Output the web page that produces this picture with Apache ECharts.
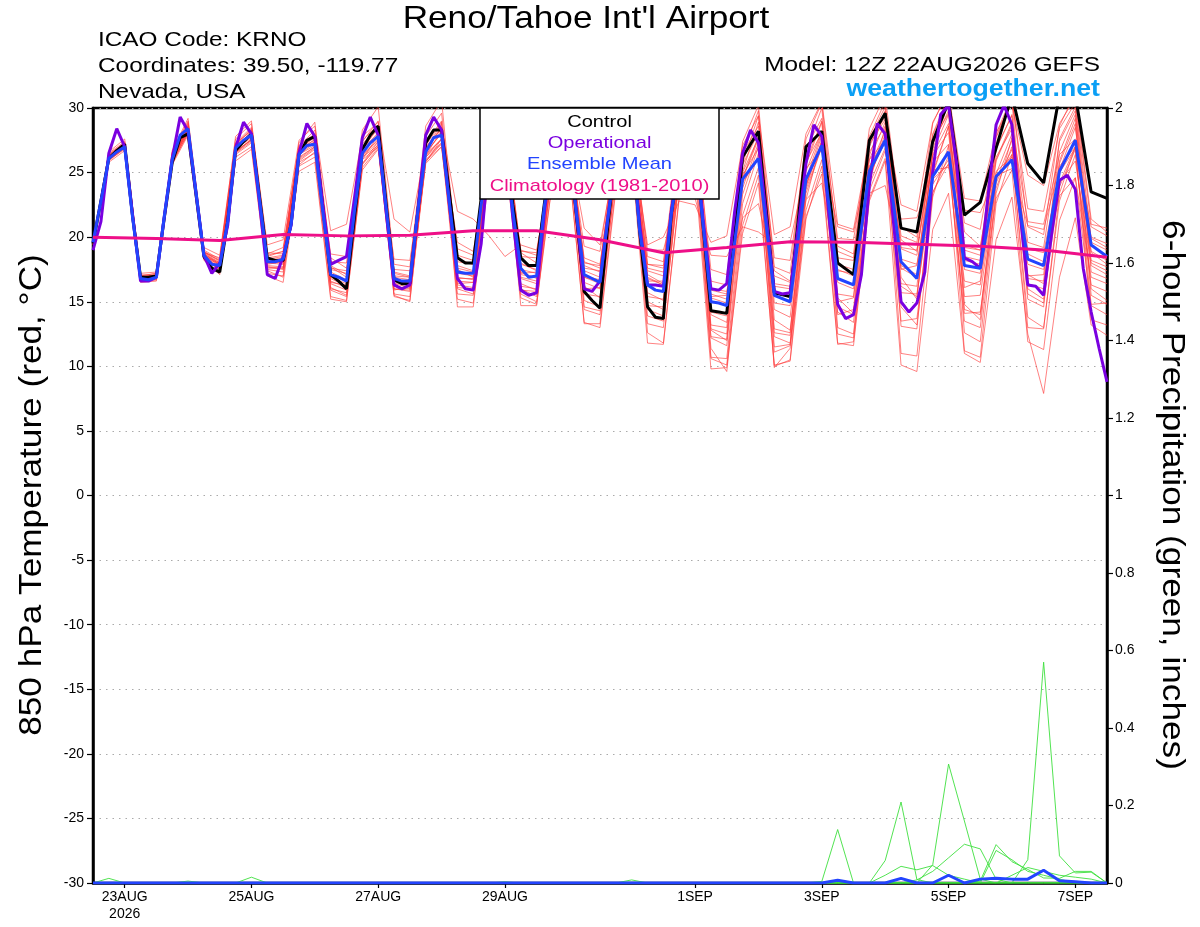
<!DOCTYPE html>
<html>
<head>
<meta charset="utf-8">
<script src="https://cdn.jsdelivr.net/npm/echarts@6/dist/echarts.min.js"></script>
<style>
  html, body { margin: 0; padding: 0; background: #fff; }
  #chart { width: 1200px; height: 927px; }
</style>
</head>
<body>
<div id="chart"></div>
<script>
// forecast hours after 12Z 22AUG2026
const steps = (a, b, s) => { const r = []; for (let h = a; h <= b; h += s) r.push(h); return r }
const hoursOper = steps(0, 384, 3)
const hoursGefs = steps(0, 240, 3).concat(steps(246, 384, 6))
const hours6 = steps(0, 384, 6)
const hoursDaily = steps(0, 384, 24)

const labelHours = [12, 60, 108, 156, 228, 276, 324, 372]
const labelText = ['23AUG\n2026', '25AUG', '27AUG', '29AUG', '1SEP', '3SEP', '5SEP', '7SEP']

// 850 hPa temperature, deg C
const operational = [19.0,
  21.2, 26.5, 28.4, 27.0, 21.7, 16.6, 16.6, 16.9,
  21.6, 26.1, 29.3, 28.2, 23.4, 18.6, 17.2, 18.0,
  20.9, 26.9, 28.9, 28.0, 22.8, 17.1, 16.8, 18.5,
  20.9, 26.5, 28.8, 27.8, 22.5, 17.9, 18.2, 18.5,
  23.0, 27.7, 29.3, 27.9, 22.0, 16.3, 16.0, 16.3,
  22.0, 27.9, 29.3, 28.3, 22.5, 16.8, 16.0, 15.9,
  19.5, 26.5, 28.8, 28.0, 21.5, 15.9, 15.5, 15.7,
  22.0, 27.0, 28.8, 28.0, 22.0, 16.0, 15.8, 16.6,
  21.5, 26.5, 28.5, 27.8, 21.0, 16.3, 16.3, 16.2,
  22.0, 26.0, 28.0, 27.5, 21.5, 16.0, 15.9, 16.4,
  22.0, 26.5, 28.3, 27.3, 21.5, 15.8, 15.6, 15.7,
  20.7, 25.7, 28.7, 27.8, 21.0, 14.8, 13.7, 14.0,
  17.1, 24.0, 28.8, 28.0, 21.5, 15.0, 14.2, 14.9,
  17.3, 25.1, 29.5, 30.2, 25.8, 18.4, 18.1, 17.6,
  23.3, 28.7, 30.2, 28.7, 22.0, 16.3, 16.2, 15.5,
  20.2, 24.4, 24.8, 23.7, 17.6, 14.2, 11.4, 8.8]

const control = [19.5,
  22.8, 26.1, 26.7, 27.2, 21.6, 16.9, 16.9, 17.0,
  21.5, 25.8, 27.7, 28.0, 23.3, 18.5, 17.6, 17.3,
  21.2, 26.7, 27.4, 28.0, 23.2, 18.4, 18.2, 18.2,
  21.0, 26.4, 27.5, 27.8, 22.4, 17.1, 16.6, 16.0,
  21.5, 26.8, 27.9, 28.6, 22.6, 16.7, 16.4, 16.4,
  22.0, 27.3, 28.3, 28.3, 23.3, 18.4, 18.0, 18.0,
  23.0, 27.0, 28.0, 28.2, 22.5, 18.4, 17.8, 17.8,
  22.7, 26.8, 28.0, 28.2, 21.8, 15.8, 15.1, 14.5,
  21.0, 26.5, 28.0, 28.2, 20.5, 14.6, 13.8, 13.7,
  21.8, 26.0, 27.5, 28.0, 21.0, 14.3, 14.2, 14.1,
  26.2, 28.2, 15.7, 15.4, 27.0, 28.2, 18.0, 17.1, 27.5, 29.6, 20.7, 20.4,
  27.4, 30.5, 21.7, 22.7, 26.9, 31.0, 25.7, 24.2, 31.0, 31.0, 23.5, 23.0]

const ensMean = [19.6,
  22.8, 26.1, 26.6, 27.0, 21.5, 16.8, 16.7, 16.9,
  21.6, 26.0, 27.9, 28.4, 23.5, 18.6, 17.9, 17.8,
  21.2, 26.9, 27.5, 27.9, 23.0, 18.1, 18.1, 18.3,
  21.0, 26.4, 27.1, 27.2, 22.0, 17.1, 16.9, 16.6,
  22.0, 26.5, 27.3, 27.8, 22.3, 16.8, 16.6, 16.6,
  22.0, 26.6, 27.7, 27.9, 22.6, 17.3, 17.2, 17.2,
  22.5, 26.5, 27.5, 27.8, 22.0, 17.6, 16.9, 17.0,
  22.5, 26.3, 27.4, 27.6, 22.0, 17.1, 16.8, 16.5,
  21.5, 26.0, 27.2, 27.5, 20.5, 16.3, 15.9, 15.8,
  21.8, 25.8, 27.0, 27.3, 21.0, 15.0, 14.9, 14.7,
  24.5, 26.1, 15.5, 15.0, 24.5, 27.1, 16.8, 16.3, 25.1, 27.5, 18.1, 16.8,
  24.7, 26.6, 17.8, 17.6, 24.7, 26.0, 18.3, 17.8, 25.1, 27.5, 19.4, 18.5]

const climatology = [20.0, 19.9, 19.75, 20.2, 20.1, 20.15, 20.5, 20.5, 19.8, 18.8,
  19.2, 19.65, 19.6, 19.45, 19.3, 19.0, 18.45]

// ensemble members, 6-hourly (4 values per day)
const tempMembers = [
  [19.5, 26.4, 27.3, 16.6, 16.7, 26.3, 28.6, 18.9, 18.1, 27.3, 28.5, 18.6, 18.9, 27.0, 28.3, 17.8,
   17.1, 27.4, 29.0, 17.5, 17.4, 27.8, 29.6, 18.6, 18.2, 27.5, 29.0, 18.8, 18.0, 27.0, 28.5, 16.2,
   15.3, 25.4, 27.0, 14.4, 13.9, 24.6, 27.8, 13.2, 13.0, 25.1, 28.9, 17.4, 16.6, 25.8, 28.1, 15.3,
   14.1, 23.6, 26.7, 19.8, 18.9, 27.4, 29.6, 20.4, 19.3, 26.2, 28.4, 17.1, 16.4, 24.2, 27.0, 20.8, 20.1],
  [19.8, 26.0, 26.8, 17.0, 17.2, 25.7, 28.1, 18.3, 17.5, 26.4, 27.3, 17.6, 17.6, 25.8, 26.5, 16.4,
   15.9, 25.6, 27.2, 15.6, 15.4, 25.9, 27.3, 16.1, 16.0, 25.8, 27.1, 16.4, 15.9, 25.2, 26.6, 15.1,
   14.6, 24.8, 26.9, 12.6, 11.8, 23.2, 25.8, 10.6, 10.1, 21.7, 25.4, 12.3, 11.8, 22.1, 26.0, 14.2,
   13.4, 24.1, 26.9, 16.2, 15.4, 25.0, 28.6, 19.0, 18.6, 26.8, 29.5, 16.0, 15.2, 23.9, 26.8, 18.8, 17.9],
  [19.4, 26.2, 27.1, 16.9, 17.0, 26.1, 28.3, 18.7, 17.9, 26.6, 27.6, 17.9, 18.1, 26.0, 26.9, 16.8,
   16.2, 26.2, 27.4, 16.0, 15.8, 26.0, 27.2, 15.2, 14.9, 24.7, 26.4, 15.3, 14.8, 24.3, 26.1, 13.4,
   13.0, 23.6, 26.2, 11.8, 11.7, 23.0, 25.1, 9.8, 9.9, 20.3, 24.2, 10.1, 10.4, 21.4, 25.5, 11.8,
   11.6, 22.8, 25.9, 10.1, 9.6, 20.6, 23.4, 11.0, 10.3, 19.8, 23.1, 12.5, 7.9, 16.9, 21.5, 13.2, 12.4],
  [19.7, 26.5, 27.4, 17.2, 17.3, 26.6, 29.0, 19.2, 18.6, 27.6, 28.8, 19.4, 19.8, 27.5, 28.6, 20.5,
   21.0, 27.8, 28.9, 21.4, 20.4, 26.9, 28.5, 22.0, 21.4, 20.1, 18.5, 19.4, 19.0, 25.8, 27.4, 20.7,
   19.4, 26.3, 27.7, 19.4, 20.0, 22.8, 22.5, 19.6, 20.1, 27.1, 29.4, 20.2, 20.8, 28.0, 30.5, 21.0,
   20.6, 27.2, 29.1, 22.5, 22.0, 28.9, 31.2, 23.0, 22.8, 28.1, 30.3, 24.8, 24.0, 28.8, 30.8, 21.0, 20.7],
  [19.6, 26.0, 27.0, 16.5, 16.6, 25.9, 28.5, 18.4, 17.4, 26.2, 27.0, 17.2, 17.0, 25.5, 26.2, 15.4,
   15.1, 25.2, 26.8, 15.9, 16.2, 26.8, 28.8, 14.6, 14.6, 25.2, 27.5, 14.7, 14.7, 25.6, 27.8, 16.0,
   16.1, 26.5, 28.2, 15.7, 15.1, 26.0, 28.4, 12.8, 12.0, 23.8, 27.3, 10.0, 10.5, 22.9, 27.6, 14.0,
   14.4, 26.3, 29.8, 16.9, 15.2, 26.8, 30.4, 14.8, 13.6, 24.9, 28.0, 15.6, 14.9, 25.9, 29.2, 16.0, 15.1],
  [19.5, 26.2, 27.2, 16.9, 17.1, 26.2, 28.8, 18.8, 18.0, 27.0, 28.1, 18.3, 18.5, 26.8, 27.8, 17.7,
   16.9, 26.9, 28.4, 16.7, 16.4, 27.1, 28.9, 17.2, 17.0, 26.9, 28.4, 18.0, 17.4, 26.9, 28.3, 18.1,
   17.6, 27.1, 28.8, 17.4, 17.0, 26.8, 28.6, 15.9, 15.6, 25.6, 28.1, 13.6, 12.8, 23.7, 27.0, 18.9,
   18.4, 27.6, 30.1, 20.1, 19.6, 27.9, 30.6, 18.2, 17.9, 26.0, 28.9, 19.6, 19.2, 27.4, 29.8, 17.3, 16.8],
  [19.7, 25.9, 26.9, 16.7, 16.8, 25.8, 28.0, 18.2, 17.1, 25.9, 26.8, 17.0, 16.5, 25.1, 25.8, 15.2,
   15.0, 25.4, 26.9, 16.4, 16.1, 25.9, 27.0, 17.5, 16.9, 25.6, 26.9, 15.6, 15.0, 24.4, 26.0, 13.3,
   13.3, 24.0, 26.4, 13.9, 13.5, 24.3, 26.5, 11.4, 9.6, 20.9, 24.8, 9.9, 11.4, 21.6, 24.9, 11.7,
   11.9, 23.0, 26.1, 13.5, 13.7, 23.5, 25.7, 14.1, 14.2, 23.0, 25.2, 11.9, 11.3, 21.3, 24.6, 14.7, 14.0],
  [19.6, 26.6, 27.6, 17.1, 17.0, 26.7, 29.2, 19.0, 18.3, 27.8, 29.0, 18.8, 18.7, 27.3, 28.9, 18.4,
   17.6, 28.3, 30.1, 17.9, 17.7, 28.6, 30.6, 18.1, 17.9, 27.8, 29.5, 17.3, 16.8, 26.8, 28.7, 17.6,
   17.4, 27.6, 29.4, 18.5, 18.1, 27.8, 29.6, 16.6, 16.3, 27.4, 30.2, 17.7, 17.2, 27.6, 30.4, 19.3,
   18.7, 28.4, 31.0, 20.8, 20.0, 28.8, 31.4, 19.4, 19.0, 28.0, 30.9, 20.8, 20.2, 28.6, 31.2, 21.4, 20.4],
  [19.4, 25.8, 26.7, 16.6, 16.7, 25.6, 27.9, 18.5, 17.7, 26.5, 27.4, 18.0, 18.2, 26.2, 27.0, 16.9,
   16.4, 26.4, 27.5, 16.2, 16.0, 25.7, 27.0, 16.4, 16.5, 26.1, 27.4, 17.1, 16.9, 26.4, 27.9, 16.5,
   16.0, 25.5, 27.0, 15.0, 14.4, 25.1, 27.4, 15.6, 15.2, 24.8, 26.9, 14.4, 13.8, 24.0, 27.4, 17.5,
   17.0, 25.5, 27.6, 14.6, 13.2, 23.4, 26.3, 16.6, 16.3, 24.6, 26.4, 13.8, 13.0, 22.8, 26.4, 16.3, 15.8],
  [19.8, 26.3, 27.1, 17.0, 17.2, 26.1, 28.4, 18.8, 18.4, 27.1, 28.0, 18.7, 19.2, 26.9, 27.5, 18.7,
   18.5, 26.2, 27.1, 18.3, 18.2, 26.4, 27.6, 19.6, 18.9, 26.0, 27.2, 18.9, 18.8, 26.5, 27.5, 19.3,
   18.9, 26.9, 27.9, 19.0, 19.0, 23.6, 23.0, 18.6, 18.5, 20.8, 20.4, 19.5, 19.6, 25.3, 26.8, 20.8,
   20.4, 26.0, 27.5, 21.4, 21.5, 25.2, 25.4, 22.1, 21.9, 24.8, 25.3, 20.9, 20.6, 25.5, 27.0, 20.0, 19.5],
  [19.6, 26.1, 27.0, 16.8, 16.9, 26.0, 28.2, 18.6, 17.8, 27.2, 28.3, 18.0, 17.9, 26.6, 27.4, 16.1,
   15.5, 26.0, 27.9, 17.0, 16.9, 27.3, 29.0, 16.0, 15.6, 26.4, 28.3, 16.8, 16.4, 26.2, 27.4, 18.4,
   17.9, 26.7, 27.5, 17.1, 16.4, 26.0, 27.9, 14.0, 13.4, 24.6, 27.8, 16.2, 16.0, 25.6, 28.9, 13.0,
   12.5, 24.2, 28.5, 17.8, 17.1, 26.4, 28.8, 12.6, 11.9, 23.4, 27.7, 17.0, 17.1, 26.6, 29.5, 18.0, 17.4],
  [19.5, 26.0, 26.9, 16.8, 16.9, 26.1, 28.5, 18.5, 17.6, 26.8, 27.8, 18.2, 18.4, 26.5, 27.4, 17.3,
   16.7, 26.3, 27.6, 17.3, 17.0, 26.3, 27.6, 18.3, 17.9, 26.8, 28.0, 16.2, 16.0, 25.6, 27.2, 14.4,
   14.0, 24.9, 27.0, 14.7, 14.6, 25.5, 27.6, 10.7, 10.6, 22.6, 26.5, 11.1, 11.6, 23.4, 27.0, 15.0,
   15.3, 24.8, 27.4, 17.5, 17.8, 25.8, 27.2, 15.4, 15.5, 24.2, 26.8, 19.1, 18.8, 25.0, 26.9, 14.8, 14.9],
  [19.6, 26.3, 27.2, 16.7, 16.8, 26.4, 28.7, 18.7, 18.0, 26.9, 27.9, 17.5, 17.3, 26.1, 27.0, 16.6,
   16.1, 26.7, 28.6, 16.4, 16.6, 27.0, 28.4, 17.8, 17.4, 26.2, 27.4, 17.9, 17.5, 26.0, 27.0, 15.6,
   15.4, 25.3, 27.2, 16.6, 16.6, 26.2, 27.9, 12.9, 12.5, 25.7, 29.4, 14.9, 14.7, 25.9, 29.0, 17.9,
   17.5, 27.0, 29.7, 13.1, 12.9, 24.8, 28.6, 18.5, 18.2, 26.9, 29.4, 16.4, 16.0, 25.2, 28.5, 19.6, 19.0],
  [19.7, 26.2, 27.0, 16.9, 17.0, 25.9, 28.3, 18.6, 17.9, 26.8, 27.7, 17.8, 17.7, 26.6, 27.6, 17.1,
   16.6, 26.8, 28.1, 15.4, 15.1, 25.8, 27.6, 16.9, 16.7, 25.9, 27.0, 17.2, 17.3, 26.6, 28.0, 16.9,
   16.6, 25.8, 27.1, 16.9, 16.3, 25.4, 27.0, 16.0, 15.8, 21.5, 22.6, 17.0, 16.5, 22.9, 24.2, 17.4,
   17.2, 23.4, 24.0, 18.3, 17.9, 24.5, 25.6, 19.2, 19.0, 25.1, 26.2, 18.7, 18.1, 23.2, 24.6, 16.9, 16.4],
  [19.5, 26.4, 27.3, 16.8, 17.0, 26.2, 28.4, 18.4, 17.6, 27.1, 28.4, 18.5, 18.9, 26.9, 27.7, 17.5,
   17.2, 27.2, 28.6, 16.6, 16.4, 26.8, 28.4, 16.6, 16.5, 27.2, 28.8, 18.5, 18.4, 27.5, 28.8, 17.0,
   16.7, 26.6, 28.2, 17.9, 17.6, 27.0, 28.4, 15.3, 14.9, 26.4, 29.8, 15.8, 15.3, 26.7, 30.0, 16.5,
   16.0, 27.8, 30.5, 17.6, 16.9, 28.0, 30.9, 17.5, 17.2, 27.7, 30.5, 16.8, 16.6, 27.6, 30.1, 18.9, 18.2],
  [19.6, 26.0, 26.9, 16.6, 16.9, 26.0, 28.2, 18.7, 17.9, 27.0, 27.9, 17.4, 16.9, 25.6, 26.6, 16.0,
   15.7, 25.7, 27.0, 16.9, 16.7, 26.2, 27.3, 17.6, 17.3, 26.6, 27.6, 16.0, 15.4, 25.4, 27.0, 17.4,
   16.9, 26.1, 27.3, 15.4, 15.2, 25.9, 27.8, 12.2, 11.6, 23.3, 27.0, 12.9, 12.6, 23.9, 27.4, 15.6,
   15.4, 26.0, 28.9, 15.7, 15.6, 24.1, 26.0, 13.5, 13.0, 23.8, 27.0, 17.9, 17.5, 24.2, 25.9, 17.8, 17.1],
  [19.5, 26.1, 27.1, 16.9, 17.1, 26.5, 28.9, 18.9, 18.2, 26.7, 27.5, 18.4, 18.6, 26.4, 27.1, 17.6,
   17.4, 26.0, 27.0, 15.5, 15.0, 26.3, 28.3, 16.3, 16.1, 26.9, 28.5, 16.9, 16.6, 26.7, 28.2, 17.8,
   17.3, 26.5, 27.6, 16.8, 16.3, 25.0, 26.3, 15.4, 15.5, 24.2, 26.1, 16.4, 16.2, 25.1, 28.2, 18.4,
   18.2, 26.6, 28.6, 19.2, 19.0, 26.3, 28.1, 16.1, 16.6, 25.9, 28.7, 21.2, 21.0, 26.4, 27.6, 18.2, 17.7],
  [19.7, 26.2, 27.0, 16.7, 16.8, 25.8, 28.1, 18.5, 17.5, 26.5, 27.6, 17.7, 17.5, 25.9, 26.8, 16.5,
   16.3, 26.6, 28.0, 16.0, 15.9, 26.5, 28.1, 15.6, 15.5, 25.9, 27.7, 15.9, 15.8, 25.9, 27.5, 14.6,
   14.3, 24.7, 26.6, 13.3, 13.0, 24.9, 27.0, 12.3, 12.1, 24.5, 27.6, 11.5, 11.7, 24.0, 27.9, 12.5,
   12.2, 24.5, 28.0, 11.0, 10.8, 23.1, 27.1, 11.2, 10.7, 22.6, 26.4, 13.0, 12.9, 23.4, 27.0, 13.6, 13.2],
  [19.6, 26.3, 27.2, 16.9, 17.0, 26.2, 28.6, 18.8, 18.2, 27.3, 28.2, 18.1, 18.0, 27.1, 28.0, 18.1,
   18.0, 27.5, 28.7, 17.2, 16.9, 26.6, 28.0, 19.1, 18.6, 27.1, 28.3, 19.0, 18.6, 27.2, 28.6, 18.0,
   17.8, 26.7, 28.1, 17.9, 17.8, 27.2, 28.9, 17.5, 17.1, 26.5, 28.6, 18.4, 18.2, 26.9, 29.2, 19.9,
   19.8, 27.4, 29.3, 19.1, 18.6, 27.2, 29.8, 21.1, 20.6, 27.8, 30.6, 22.2, 22.0, 28.4, 30.4, 19.9, 19.2],
  [19.5, 26.1, 27.0, 16.8, 16.9, 25.9, 28.3, 18.6, 17.8, 26.6, 27.5, 17.7, 17.6, 26.4, 27.3, 15.9,
   15.4, 25.7, 27.4, 16.6, 16.3, 26.2, 27.6, 16.8, 16.8, 26.4, 27.8, 17.5, 17.2, 26.6, 27.8, 16.9,
   16.4, 25.2, 26.5, 17.6, 17.3, 26.3, 27.4, 14.2, 13.9, 25.0, 27.7, 12.6, 12.4, 24.5, 28.1, 14.6,
   14.0, 25.4, 28.2, 16.4, 16.2, 26.6, 29.5, 14.4, 14.0, 24.4, 27.5, 15.2, 14.6, 25.7, 28.8, 15.5, 14.8]
]

// 6-hour precipitation, inches (members with any rain, and the ensemble mean)
const precipMembers = [
  [0, 0.012, 0, 0, 0, 0, 0, 0, 0, 0, 0, 0, 0, 0, 0, 0, 0, 0, 0, 0, 0, 0, 0, 0, 0, 0, 0, 0, 0, 0, 0, 0,
   0, 0, 0, 0, 0, 0, 0, 0, 0, 0, 0, 0, 0, 0, 0.004, 0.138, 0, 0, 0, 0, 0, 0, 0, 0, 0, 0, 0, 0, 0, 0, 0, 0, 0],
  [0, 0, 0, 0, 0, 0, 0, 0, 0, 0, 0, 0, 0, 0, 0, 0, 0, 0, 0, 0, 0, 0, 0, 0, 0, 0, 0, 0, 0, 0, 0, 0,
   0, 0, 0, 0, 0, 0, 0, 0, 0, 0, 0, 0, 0, 0, 0, 0, 0, 0, 0.058, 0.209, 0.009, 0, 0, 0, 0, 0, 0, 0, 0, 0, 0, 0, 0],
  [0, 0, 0, 0, 0, 0, 0, 0, 0, 0, 0, 0, 0, 0, 0, 0, 0, 0, 0, 0, 0, 0, 0, 0, 0, 0, 0, 0, 0, 0, 0, 0,
   0, 0, 0, 0, 0, 0, 0, 0, 0, 0, 0, 0, 0, 0, 0, 0, 0, 0, 0, 0, 0, 0.047, 0.307, 0.16, 0.01, 0, 0, 0, 0, 0, 0, 0, 0],
  [0, 0, 0, 0, 0, 0, 0, 0, 0, 0, 0, 0, 0, 0, 0, 0, 0, 0, 0, 0, 0, 0, 0, 0, 0, 0, 0, 0, 0, 0, 0, 0,
   0, 0, 0, 0, 0, 0, 0, 0, 0, 0, 0, 0, 0, 0, 0, 0, 0, 0, 0, 0, 0.008, 0.03, 0.065, 0.1, 0.088, 0.01, 0, 0, 0, 0, 0, 0, 0],
  [0, 0, 0, 0, 0, 0, 0, 0, 0, 0, 0, 0, 0, 0, 0, 0, 0, 0, 0, 0, 0, 0, 0, 0, 0, 0, 0, 0, 0, 0, 0, 0,
   0, 0, 0, 0, 0, 0, 0, 0, 0, 0, 0, 0, 0, 0, 0, 0, 0, 0, 0, 0, 0, 0, 0, 0, 0.005, 0.099, 0.055, 0.035, 0.013, 0.012, 0.03, 0.03, 0],
  [0, 0, 0, 0, 0, 0, 0, 0, 0, 0, 0, 0, 0, 0, 0, 0, 0, 0, 0, 0, 0, 0, 0, 0, 0, 0, 0, 0, 0, 0, 0, 0,
   0, 0, 0, 0, 0, 0, 0, 0, 0, 0, 0, 0, 0, 0, 0, 0, 0, 0, 0, 0, 0, 0, 0, 0, 0, 0.084, 0.06, 0.03, 0.02, 0.01, 0, 0, 0],
  [0, 0, 0, 0, 0, 0, 0, 0, 0, 0, 0, 0, 0, 0, 0, 0, 0, 0, 0, 0, 0, 0, 0, 0, 0, 0, 0, 0, 0, 0, 0, 0,
   0, 0, 0, 0, 0, 0, 0, 0, 0, 0, 0, 0, 0, 0, 0, 0, 0, 0, 0, 0, 0, 0, 0, 0, 0, 0, 0, 0.06, 0.57, 0.07, 0.026, 0.028, 0],
  [0, 0, 0, 0, 0, 0, 0.005, 0, 0, 0, 0.015, 0, 0, 0, 0, 0, 0, 0, 0, 0, 0, 0, 0, 0, 0, 0, 0.003, 0, 0, 0, 0, 0,
   0, 0, 0.008, 0, 0, 0, 0, 0, 0, 0, 0, 0, 0, 0, 0, 0, 0, 0, 0.02, 0.043, 0.034, 0.045, 0.02, 0.01, 0, 0, 0, 0, 0, 0, 0, 0, 0],
  [0, 0, 0, 0, 0, 0, 0, 0, 0, 0, 0, 0, 0, 0, 0, 0, 0, 0, 0, 0, 0, 0, 0, 0, 0, 0, 0, 0, 0, 0, 0, 0,
   0, 0, 0, 0, 0, 0, 0, 0, 0, 0, 0, 0, 0, 0, 0, 0, 0, 0, 0, 0, 0, 0, 0, 0, 0, 0, 0.02, 0.04, 0.03, 0.02, 0.015, 0.01, 0]
]
const precipMean = [0, 0, 0, 0, 0, 0, 0, 0, 0, 0, 0, 0, 0, 0, 0, 0, 0, 0, 0, 0, 0, 0, 0, 0, 0, 0, 0, 0, 0, 0, 0, 0,
  0, 0, 0, 0, 0, 0, 0, 0, 0, 0, 0, 0, 0, 0, 0, 0.007, 0, 0, 0, 0.012, 0, 0, 0.02, 0, 0.01, 0.012, 0.01, 0.01, 0.033, 0.006, 0.003, 0, 0]

const font = '"Liberation Sans", Arial, Helvetica, sans-serif'
const pair = (hs, vs) => vs.map((v, i) => [hs[i], v])

const chart = echarts.init(document.getElementById('chart'), null, {renderer: 'canvas'})

const series = []
tempMembers.forEach((m, i) => {
  series.push({
    name: 'member' + (i + 1), type: 'line', data: pair(hours6, m), yAxisIndex: 0,
    symbol: 'none', silent: true, animation: false, z: 2,
    lineStyle: {color: '#ff3b3b', width: 0.8, opacity: 0.8}
  })
})
precipMembers.forEach((p, i) => {
  series.push({
    name: 'precip' + (i + 1), type: 'line', data: pair(hours6, p), yAxisIndex: 1,
    symbol: 'none', silent: true, animation: false, z: 3,
    lineStyle: {color: '#3ee03e', width: 0.9}
  })
})
series.push(
  {name: 'Control', type: 'line', data: pair(hoursGefs, control), symbol: 'none', animation: false, z: 4,
    lineStyle: {color: '#000000', width: 3}},
  {name: 'Operational', type: 'line', data: pair(hoursOper, operational), symbol: 'none', animation: false, z: 5,
    lineStyle: {color: '#7a00e0', width: 3}},
  {name: 'Ensemble Mean', type: 'line', data: pair(hoursGefs, ensMean), symbol: 'none', animation: false, z: 6,
    lineStyle: {color: '#2244ff', width: 3}},
  {name: 'Climatology (1981-2010)', type: 'line', data: pair(hoursDaily, climatology), symbol: 'none', animation: false, z: 7,
    lineStyle: {color: '#ee0f88', width: 3}},
  {name: 'Precip Mean', type: 'line', data: pair(hours6, precipMean), yAxisIndex: 1, symbol: 'none', animation: false, z: 6,
    lineStyle: {color: '#2244ff', width: 3}}
)

const legendText = [
  ['Control', '#000000'],
  ['Operational', '#7a00e0'],
  ['Ensemble Mean', '#2244ff'],
  ['Climatology (1981-2010)', '#ee0f88']
]

// text helper: the reference lettering is a bit wider than Liberation Sans
const label = (text, x, y, font_, align, fill, extra) => Object.assign({
  type: 'text', z: 101, x: x, y: y, scaleX: 1.16,
  style: {text: text, fill: fill || '#000', font: font_ + ' ' + font, textAlign: align, textVerticalAlign: 'middle'}
}, extra || {})

chart.setOption({
  animation: false,
  backgroundColor: '#ffffff',
  textStyle: {fontFamily: font},
  grid: {left: 93, right: 93, top: 108, bottom: 44, show: true, borderColor: '#000', borderWidth: 2.5, backgroundColor: 'transparent'},
  xAxis: {
    type: 'value', min: 0, max: 384,
    axisLine: {show: true, onZero: false, lineStyle: {color: '#000', width: 2.5}},
    axisTick: {show: true, customValues: labelHours, length: 5, lineStyle: {color: '#000', width: 1.2}},
    axisLabel: {customValues: labelHours, formatter: h => labelText[labelHours.indexOf(h)],
      fontSize: 14, color: '#000', margin: 6, lineHeight: 17},
    splitLine: {show: false}
  },
  yAxis: [
    {
      type: 'value', min: -30, max: 30, interval: 5, position: 'left',
      axisLine: {show: true, lineStyle: {color: '#000', width: 2.5}},
      axisTick: {show: true, length: 6, lineStyle: {color: '#000', width: 1.2}},
      axisLabel: {fontSize: 14, color: '#000', margin: 9},
      splitLine: {show: true, lineStyle: {color: '#aaaaaa', width: 1, type: [1.5, 5]}}
    },
    {
      type: 'value', min: 0, max: 2, interval: 0.2, position: 'right',
      axisLine: {show: true, lineStyle: {color: '#000', width: 2.5}},
      axisTick: {show: true, length: 6, lineStyle: {color: '#000', width: 1.2}},
      axisLabel: {fontSize: 14, color: '#000', margin: 8, formatter: v => String(+v.toFixed(1))},
      splitLine: {show: false}
    }
  ],
  graphic: [
    {type: 'rect', z: 100, shape: {x: 480, y: 108, width: 239, height: 91},
      style: {fill: '#ffffff', stroke: '#000', lineWidth: 1.5}},
    ...legendText.map((t, i) => label(t[0], 599.5, 122 + i * 21.3, '17px', 'center', t[1], {scaleX: 1.18})),
    label("Reno/Tahoe Int'l Airport", 586, 19.5, '32px', 'center', null, {scaleX: 1.1}),
    label('ICAO Code: KRNO', 98, 40.5, '21px', 'left'),
    label('Coordinates: 39.50, -119.77', 98, 66.5, '21px', 'left'),
    label('Nevada, USA', 98, 92, '21px', 'left'),
    label('Model: 12Z 22AUG2026 GEFS', 1100, 65, '21px', 'right'),
    label('weathertogether.net', 1100, 89.5, 'bold 23px', 'right', '#0a9ff5'),
    label('850 hPa Temperature (red, °C)', 32, 495, '32px', 'center', null, {rotation: Math.PI / 2, scaleX: 1.1}),
    label('6-hour Precipitation (green, inches)', 1172, 495, '32px', 'center', null, {rotation: -Math.PI / 2, scaleX: 1.1})
  ],
  series: series
})
</script>
</body>
</html>
